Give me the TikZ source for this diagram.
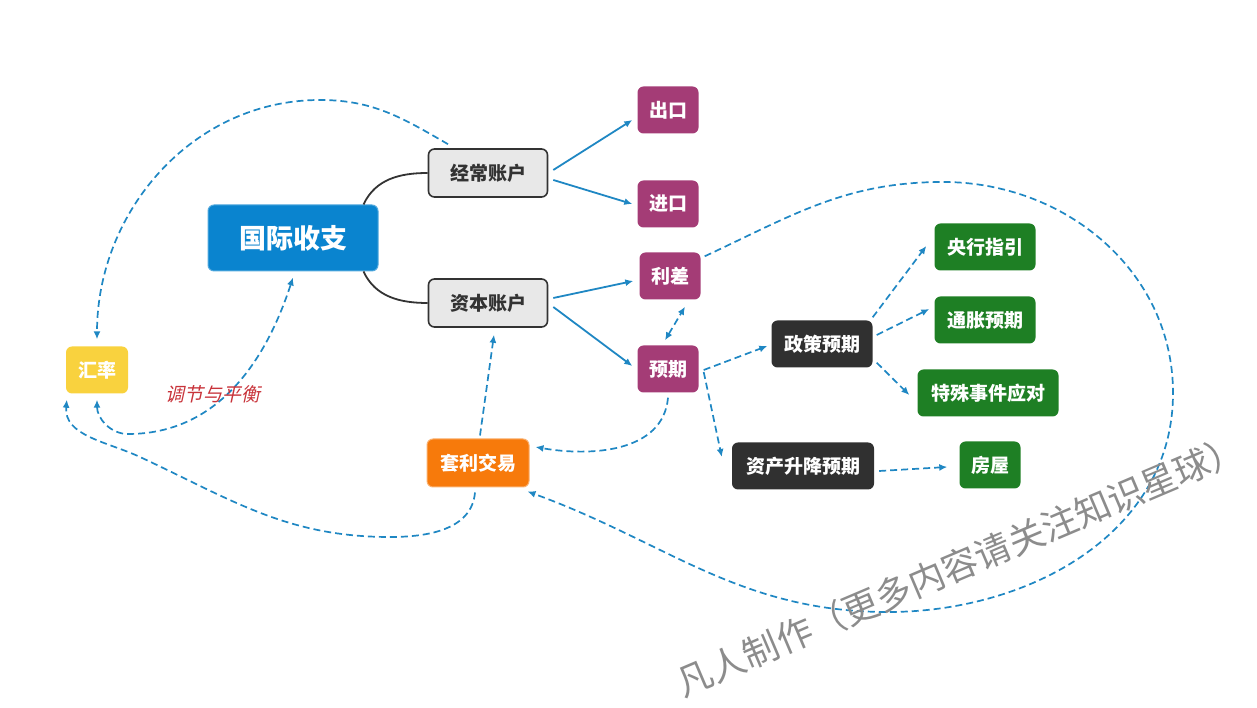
\documentclass[tikz,border=0pt]{standalone}
\usepackage{fontspec}
\setmainfont{Noto Sans CJK SC}
\newfontfamily\slantfont{Noto Sans CJK SC}[FakeSlant=0.22]
\usetikzlibrary{positioning,arrows.meta}
\definecolor{rootblue}{HTML}{0A84CF}
\definecolor{acctgray}{HTML}{E8E8E8}
\definecolor{boxline}{HTML}{333333}
\definecolor{itempurple}{HTML}{A43C76}
\definecolor{subdark}{HTML}{303030}
\definecolor{leafgreen}{HTML}{1E7F24}
\definecolor{fxyellow}{HTML}{F9D23E}
\definecolor{arborange}{HTML}{F77A0B}
\definecolor{linkblue}{HTML}{1F87C3}
\definecolor{notered}{HTML}{C8333A}
\definecolor{markgray}{HTML}{8C8C8C}

\begin{document}
\begin{tikzpicture}[
  x=1pt,y=1pt,
  font=\fontsize{19}{21}\selectfont\bfseries,
  box/.style={rounded corners=6pt,minimum height=47pt,inner sep=0pt,align=center,text=white},
  acct/.style={box,draw=boxline,line width=1.6pt,fill=acctgray,text=boxline,minimum width=119pt,minimum height=48pt},
  item/.style={box,fill=itempurple,minimum width=61pt},
  sub/.style={box,fill=subdark},
  leaf/.style={box,fill=leafgreen},
  link/.style={->,draw=linkblue,line width=1.8pt},
  dlink/.style={link,line width=1.7pt,dash pattern=on 7pt off 4pt},
  >={Latex[length=8pt,width=7pt]}
]
\useasboundingbox (0,0) rectangle (1257,708);
% ---- nodes ----
\node[box,fill=rootblue,draw=rootblue!70!white,line width=1pt,minimum width=170pt,minimum height=66pt,font=\fontsize{27}{30}\selectfont\bfseries] (bop) at (293,470) {国际收支};
\node[acct] (cur) at (488,535) {经常账户};
\node[acct] (cap) at (488,405) {资本账户};
\node[item] (exp) at (668,598) {出口};
\node[item] (imp) at (668,504) {进口};
\node[item] (rate) at (670,432) {利差};
\node[item] (outlook) at (668,339) {预期};
\node[sub,minimum width=101pt] (policy) at (822,364) {政策预期};
\node[sub,minimum width=142pt] (asset) at (803,242) {资产升降预期};
\node[leaf,minimum width=101pt] (guide) at (985,461) {央行指引};
\node[leaf,minimum width=101pt] (infl) at (985,388) {通胀预期};
\node[leaf,minimum width=141pt] (event) at (988,315) {特殊事件应对};
\node[leaf,minimum width=61pt] (house) at (990,243) {房屋};
\node[box,fill=fxyellow,minimum width=62pt] (fx) at (97,338) {汇率};
\node[box,fill=arborange,draw=arborange!60!white,line width=1pt,minimum width=102pt,minimum height=48pt] (arb) at (478,245) {套利交易};
% ---- tree ----
\draw[line width=1.8pt,draw=boxline] ([xshift=-15pt]bop.north east) to[out=65,in=180] (cur.west);
\draw[line width=1.8pt,draw=boxline] ([xshift=-15pt]bop.south east) to[out=-65,in=180] (cap.west);
\draw[link] ([shift={(5,3)}]cur.east) -- ([shift={(-5,-10)}]exp.west);
\draw[link] ([shift={(5,-7)}]cur.east) -- ([shift={(-5,0)}]imp.west);
\draw[link] ([shift={(5,5)}]cap.east) -- ([shift={(-6,-5)}]rate.west);
\draw[link] ([shift={(5,-4)}]cap.east) -- ([shift={(-5,3)}]outlook.west);
% ---- expectations ----
\draw[dlink,<->] ([shift={(-3,5)}]outlook.north) -- ([shift={(15,-7)}]rate.south);
\draw[dlink] ([shift={(5,-1)}]outlook.east) -- ([shift={(-4,-2)}]policy.west);
\draw[dlink] ([shift={(5,-3)}]outlook.east) -- ([shift={(-10,9)}]asset.west);
\draw[dlink] ([shift={(0,3)}]policy.north east) -- ([shift={(-8,1)}]guide.west);
\draw[dlink] ([shift={(4,9)}]policy.east) -- ([shift={(-5,11)}]infl.west);
\draw[dlink] ([shift={(4,5)}]policy.south east) -- ([shift={(-8,-2)}]event.west);
\draw[dlink] ([shift={(5,-5)}]asset.east) -- ([shift={(-12,-2)}]house.west);
% ---- feedback loops ----
\coordinate (topbend) at (320,608);
\coordinate (lowbend) at (128,274);
\coordinate (arbdip) at (390,171);
\coordinate (arbmid) at (140,251);
\coordinate (looptop) at (943,526);
\coordinate (loopright) at (1173,315);
\coordinate (loopbottom) at (888,96);
\draw[dlink] ([shift={(2,3)}]arb.north) -- ([shift={(6,-7)}]cap.south);
\draw[dlink] ([yshift=-5pt]outlook.south) to[out=-95,in=-10] ([shift={(6,16)}]arb.east);
\draw[dlink] ([shift={(-40,4)}]cur.north) to[out=150,in=0] (topbend) to[out=180,in=90] ([yshift=7pt]fx.north);
\draw[dlink,<->] ([yshift=-6pt]fx.south) to[out=-90,in=180] (lowbend) to[out=0,in=-108] ([yshift=-6pt]bop.south);
\node[font=\slantfont\fontsize{19}{21}\selectfont,text=notered] (note) at (213,314) {调节与平衡};
\draw[dlink] ([shift={(-3,-5)}]arb.south) to[out=-95,in=0] (arbdip) to[out=180,in=-25] (arbmid) to[out=155,in=-95] ([shift={(1,-6)}]fx.south west);
\draw[dlink] ([shift={(4,-4)}]rate.north east) to[out=25,in=180] (looptop) to[out=0,in=90] (loopright) to[out=-90,in=0] (loopbottom) to[out=180,in=-20] ([shift={(-2,-4)}]arb.south east);
% ---- watermark ----
\node[font=\fontsize{36}{36}\selectfont\mdseries,text=markgray,rotate=23] (mark) at (960,143) {凡人制作（更多内容请关注知识星球）};
\end{tikzpicture}
\end{document}
